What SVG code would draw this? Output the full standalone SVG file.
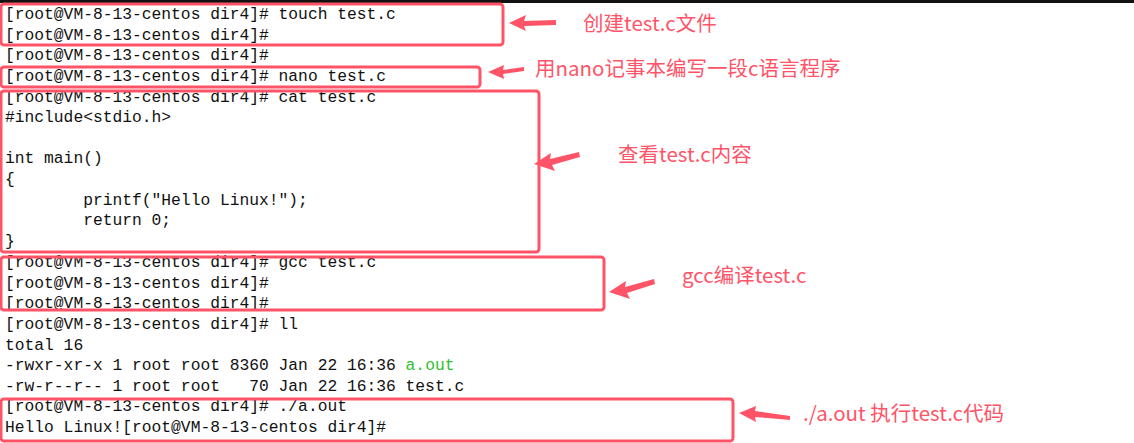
<svg xmlns="http://www.w3.org/2000/svg" width="1134" height="443" viewBox="0 0 1134 443">
<style>
.t{font-family:"Liberation Mono",monospace;font-size:16.3px;fill:#111}
.g{fill:#2ec02e}
.b{fill:none;stroke:#ff5468;stroke-width:3}
.l{font-family:"Noto Sans CJK SC","Noto Sans",sans-serif;font-size:20.5px;fill:#ff5468}
.a{fill:#ff5468}
</style>
<rect width="1134" height="443" fill="#fff"/>
<rect width="1134" height="3" fill="#111"/>
<g id="terminal">
<text class="t" x="5" y="19">[root@VM-8-13-centos dir4]# touch test.c</text>
<text class="t" x="5" y="39.5">[root@VM-8-13-centos dir4]#</text>
<text class="t" x="5" y="60">[root@VM-8-13-centos dir4]#</text>
<text class="t" x="5" y="81">[root@VM-8-13-centos dir4]# nano test.c</text>
<text class="t" x="5" y="101.5">[root@VM-8-13-centos dir4]# cat test.c</text>
<text class="t" x="5" y="122">#include&lt;stdio.h&gt;</text>
<text class="t" x="5" y="163">int main()</text>
<text class="t" x="5" y="184">{</text>
<text class="t" x="5" y="204.5" xml:space="preserve">        printf("Hello Linux!");</text>
<text class="t" x="5" y="225" xml:space="preserve">        return 0;</text>
<text class="t" x="5" y="246">}</text>
<text class="t" x="5" y="267">[root@VM-8-13-centos dir4]# gcc test.c</text>
<text class="t" x="5" y="287.5">[root@VM-8-13-centos dir4]#</text>
<text class="t" x="5" y="308">[root@VM-8-13-centos dir4]#</text>
<text class="t" x="5" y="329">[root@VM-8-13-centos dir4]# ll</text>
<text class="t" x="5" y="349.5">total 16</text>
<text class="t" x="5" y="370" xml:space="preserve">-rwxr-xr-x 1 root root 8360 Jan 22 16:36 <tspan class="g">a.out</tspan></text>
<text class="t" x="5" y="390.5" xml:space="preserve">-rw-r--r-- 1 root root   70 Jan 22 16:36 test.c</text>
<text class="t" x="5" y="411">[root@VM-8-13-centos dir4]# ./a.out</text>
<text class="t" x="5" y="431.5">Hello Linux![root@VM-8-13-centos dir4]#</text>
</g>
<g id="boxes">
<rect class="b" x="1" y="4" width="502" height="41" rx="3"/>
<rect class="b" x="1" y="67" width="479" height="20" rx="3"/>
<rect class="b" x="1" y="91" width="538" height="161" rx="3"/>
<rect class="b" x="1" y="257" width="603" height="53" rx="3"/>
<rect class="b" x="1" y="399" width="732" height="42" rx="3"/>
</g>
<g id="connectors">
<path class="a" d="M509,23 L526,15 L524,21 L556,20 L556,25 L524,26 L526,31 Z"/>
<path class="a" d="M488,72 L504,65 L503,70 L524,67 L524,71 L503,74 L504,79 Z"/>
<path class="a" d="M534,164 L551,153 L550,159 L579,152 L580,157 L552,165 L555,171 Z"/>
<path class="a" d="M609,292 L626,281 L625,287 L654,279 L655,284 L627,293 L630,299 Z"/>
<path class="a" d="M739,413 L756,406 L755,411 L790,416 L790,420 L755,417 L756,422 Z"/>
</g>
<g id="labels">
<text class="l" x="583" y="31">创建test.c文件</text>
<text class="l" x="535" y="76">用nano记事本编写一段c语言程序</text>
<text class="l" x="618" y="162">查看test.c内容</text>
<text class="l" x="682" y="283">gcc编译test.c</text>
<text class="l" x="803" y="421">./a.out 执行test.c代码</text>
</g>
</svg>
